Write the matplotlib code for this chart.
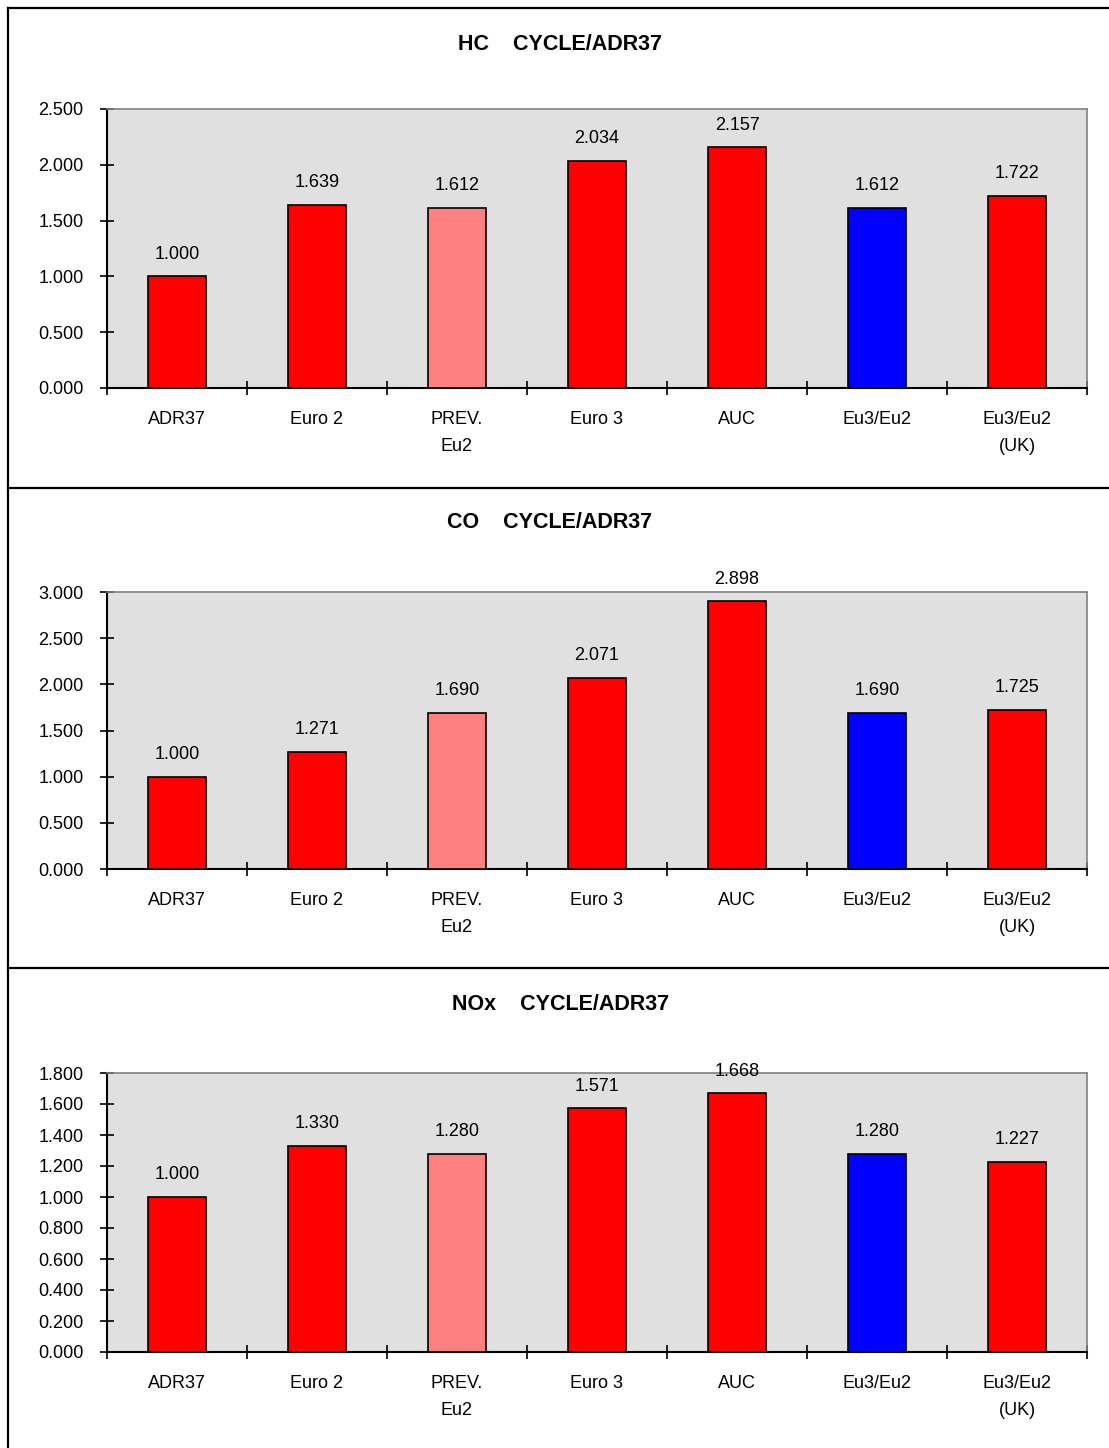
import matplotlib
matplotlib.use("Agg")
import matplotlib.pyplot as plt
from matplotlib.lines import Line2D
import numpy as np

plt.rcParams['font.family'] = ['Liberation Sans', 'DejaVu Sans']

categories = ["ADR37", "Euro 2", "PREV.\nEu2", "Euro 3", "AUC", "Eu3/Eu2", "Eu3/Eu2\n(UK)"]
hc_values = [1.000, 1.639, 1.612, 2.034, 2.157, 1.612, 1.722]
co_values = [1.000, 1.271, 1.690, 2.071, 2.898, 1.690, 1.725]
nox_values = [1.000, 1.330, 1.280, 1.571, 1.668, 1.280, 1.227]
bar_colors = ["#FF0000", "#FF0000", "#FF8080", "#FF0000", "#FF0000", "#0000FF", "#FF0000"]
titles = ["HC    CYCLE/ADR37", "CO    CYCLE/ADR37", "NOx    CYCLE/ADR37"]
y_ticks = [
    [0.0, 0.5, 1.0, 1.5, 2.0, 2.5],
    [0.0, 0.5, 1.0, 1.5, 2.0, 2.5, 3.0],
    [0.0, 0.2, 0.4, 0.6, 0.8, 1.0, 1.2, 1.4, 1.6, 1.8],
]
series = [hc_values, co_values, nox_values]

W, H = 1109, 1448
fig = plt.figure(figsize=(W / 100, H / 100), dpi=100)

# panel layout in pixels: (axes top, axes bottom, title y, title x)
layout = [(109, 388, 44, 560), (592, 869, 523, 549.5), (1073, 1352, 1005, 561)]
ax_left, ax_right = 107, 1087
FS = 13
TFS = 15.5

for (top, bot, ty, tx), vals, ticks, title in zip(layout, series, y_ticks, titles):
    ax = fig.add_axes([ax_left / W, 1 - bot / H, (ax_right - ax_left) / W, (bot - top) / H])
    ax.set_facecolor("#E0E0E0")
    x = np.arange(len(categories))
    ax.bar(x, vals, width=0.41, color=bar_colors, edgecolor="black", linewidth=1.2, zorder=3)
    ax.set_xlim(-0.5, len(categories) - 0.5)
    ax.set_ylim(ticks[0], ticks[-1])
    ax.set_yticks(ticks)
    ax.set_yticklabels([f"{t:.3f}" for t in ticks], fontsize=FS)
    ax.tick_params(axis='y', direction='inout', length=10, width=1.2, pad=12)
    # major ticks at boundaries, labels at minor ticks at centers
    ax.set_xticks(np.arange(-0.5, len(categories), 1.0))
    ax.set_xticklabels([])
    ax.tick_params(axis='x', which='major', direction='inout', length=10, width=1.2)
    ax.set_xticks(x, minor=True)
    ax.set_xticklabels(categories, minor=True, fontsize=FS, linespacing=1.77)
    ax.tick_params(axis='x', which='minor', length=0, pad=16.5)
    for s in ['top', 'right']:
        ax.spines[s].set_color("#808080")
        ax.spines[s].set_linewidth(1.2)
    for s in ['left', 'bottom']:
        ax.spines[s].set_color("black")
        ax.spines[s].set_linewidth(1.5)
    for xi, v in zip(x, vals):
        ax.annotate(f"{v:.3f}", (xi, v), xytext=(0, 16), textcoords='offset points',
                    ha='center', va='center', fontsize=FS, zorder=4, annotation_clip=False)
    fig.text(tx / W, 1 - ty / H, title, ha='center', va='center', fontsize=TFS, fontweight='bold')

# borders
lw = 1.6
fig.add_artist(Line2D([8 / W, 8 / W], [0, 1 - 7.5 / H], color='black', lw=lw, transform=fig.transFigure))
for yy in [7.5, 488, 968]:
    fig.add_artist(Line2D([8 / W, 1], [1 - yy / H, 1 - yy / H], color='black', lw=lw, transform=fig.transFigure))

fig.savefig("out.png", dpi=100)
